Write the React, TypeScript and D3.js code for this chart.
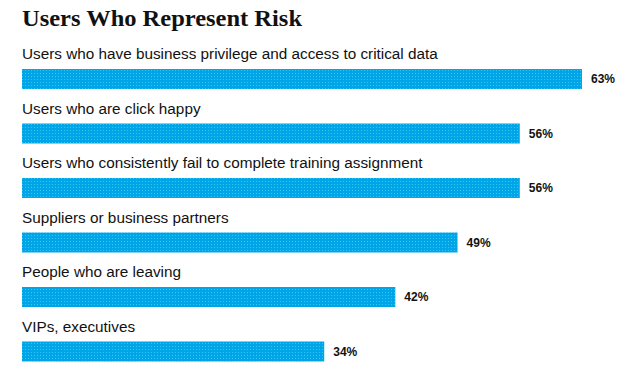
import React from "react";
import * as d3 from "d3";

const categories = [
  "Users who have business privilege and access to critical data",
  "Users who are click happy",
  "Users who consistently fail to complete training assignment",
  "Suppliers or business partners",
  "People who are leaving",
  "VIPs, executives",
];
const values = [63, 56, 56, 49, 42, 34];
const title = "Users Who Represent Risk";

export default function App() {
  const W = 628, H = 377;
  const x = d3.scaleLinear().domain([0, 63]).range([22, 582]);
  const y = d3.scaleBand<number>().domain(d3.range(categories.length)).range([69, 396]).paddingInner(0).paddingOuter(0);
  const barH = 20;
  return (
    <svg width={W} height={H} style={{ position: "absolute", left: 0, top: 0, background: "#fff" }}>
      <defs>
        <pattern id="dots" width="3" height="3" patternUnits="userSpaceOnUse">
          <rect width="3" height="3" fill="#00A5E8" />
          <rect x="1" y="1" width="1" height="1" fill="#35C8F5" />
        </pattern>
      </defs>
      <text x={22} y={26} fontFamily="Liberation Serif, serif" fontWeight="bold" fontSize={24} textLength={280} lengthAdjust="spacingAndGlyphs" fill="#111">{title}</text>
      {categories.map((c, i) => {
        const top = y(i)!;
        return (
          <g key={c}>
            <text x={22} y={top - 10} fontFamily="Liberation Sans, Arial, sans-serif" fontSize={15.3} fill="#111">{c}</text>
            <rect x={x(0)} y={top} width={x(values[i]) - x(0)} height={barH} fill="url(#dots)" />
            <text x={x(values[i]) + 9} y={top + barH / 2 + 4} fontFamily="Liberation Sans, Arial, sans-serif" fontWeight="bold" fontSize={12} fill="#111">{values[i]}%</text>
          </g>
        );
      })}
    </svg>
  );
}
